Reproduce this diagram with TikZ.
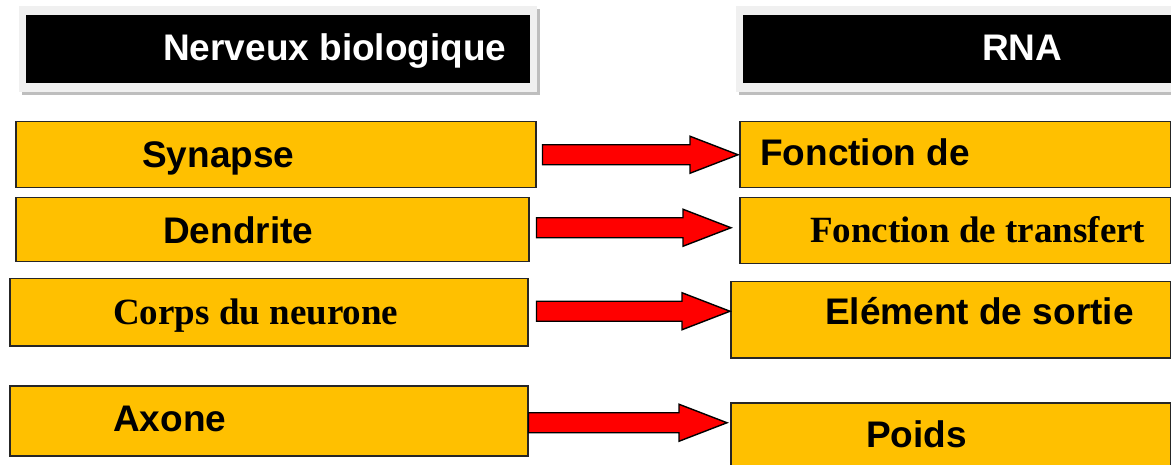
\documentclass[tikz,border=0pt]{standalone}
\usepackage{fontspec}
\setmainfont{Liberation Sans}
\newfontfamily\tnr{Liberation Serif}
\usetikzlibrary{calc}
\definecolor{boxorange}{RGB}{255,192,0}
\definecolor{frameg}{RGB}{240,240,240}
\definecolor{shadowg}{RGB}{190,190,190}
\tikzset{
  box/.style={draw=black!85, line width=1.5pt, fill=boxorange, rectangle, inner sep=0pt, anchor=north west},
  lbl/.style={anchor=base west, inner sep=0pt, font=\fontsize{37pt}{40pt}\selectfont\bfseries},
  slbl/.style={anchor=base west, inner sep=0pt, font=\fontsize{37pt}{40pt}\selectfont\tnr\bfseries},
  hlbl/.style={anchor=base west, inner sep=0pt, text=white, font=\fontsize{37pt}{40pt}\selectfont\bfseries},
  blockarrow/.style={draw=black, line width=1.4pt, fill=red, line join=miter},
  hdr/.style={fill=black, draw=none, rectangle, inner sep=0pt, anchor=north west},
}
\newcommand\redarrow[2]{\draw[blockarrow] ($(#1)+(0,-10)$) -- ($(#2)+(-48,-10)$) -- ($(#2)+(-48,-18.5)$) -- (#2) -- ($(#2)+(-48,18.5)$) -- ($(#2)+(-48,10)$) -- ($(#1)+(0,10)$) -- cycle;}
\begin{document}
\begin{tikzpicture}[x=1pt,y=-1pt]
\useasboundingbox (0,0) rectangle (1171,465);
\clip (0,0) rectangle (1171,465);
% headers
\fill[shadowg] (22,9) rectangle (540,95);
\fill[frameg] (19,6) rectangle (537,92);
\node[hdr, minimum width=504pt, minimum height=68pt] (hl) at (26,15) {};
\node[hlbl] (hlt) at (163,61) {Nerveux biologique};
\fill[shadowg] (739,9) rectangle (1180,95);
\fill[frameg] (736,6) rectangle (1180,92);
\node[hdr, minimum width=440pt, minimum height=68pt] (hr) at (743,15) {};
\node[hlbl] (hrt) at (982,61) {RNA};
% left boxes
\node[box, minimum width=520pt, minimum height=66pt] (syn) at (15,121) {};
\node[lbl] at (142,168) {Synapse};
\node[box, minimum width=513pt, minimum height=64pt] (den) at (15,197) {};
\node[lbl] at (163,244) {Dendrite};
\node[box, minimum width=518pt, minimum height=67pt] (cor) at (9,278) {};
\node[slbl] at (113,324) {Corps du neurone};
\node[box, minimum width=518pt, minimum height=70pt] (axo) at (9,385) {};
\node[lbl] at (113,431) {Axone};
% right boxes
\node[box, minimum width=431pt, minimum height=66pt] (fdc) at (739,121) {};
\node[lbl] at (760,166) {Fonction de};
\node[box, minimum width=431pt, minimum height=66pt] (fdt) at (739,197) {};
\node[slbl] at (810,243) {Fonction de transfert};
\node[box, minimum width=440pt, minimum height=76pt] (elm) at (730,281) {};
\node[lbl] at (825,325) {Elément de sortie};
\node[box, minimum width=440pt, minimum height=80pt] (poi) at (730,402) {};
\node[lbl] at (866,447) {Poids};
% arrows
\coordinate (s1) at ($(syn.east)+(6,0)$);
\coordinate (t1) at ($(s1 -| fdc.west)+(-1,0)$);
\coordinate (s2) at ($(den.east)+(7,-2)$);
\coordinate (t2) at ($(s2 -| fdt.west)+(-8,0)$);
\coordinate (s3) at ($(cor.east)+(8,-1)$);
\coordinate (t3) at (s3 -| elm.west);
\coordinate (s4) at ($(axo.east)+(0,2)$);
\coordinate (t4) at ($(s4 -| poi.west)+(-3,0)$);
\redarrow{s1}{t1}
\redarrow{s2}{t2}
\redarrow{s3}{t3}
\redarrow{s4}{t4}
\end{tikzpicture}
\end{document}
